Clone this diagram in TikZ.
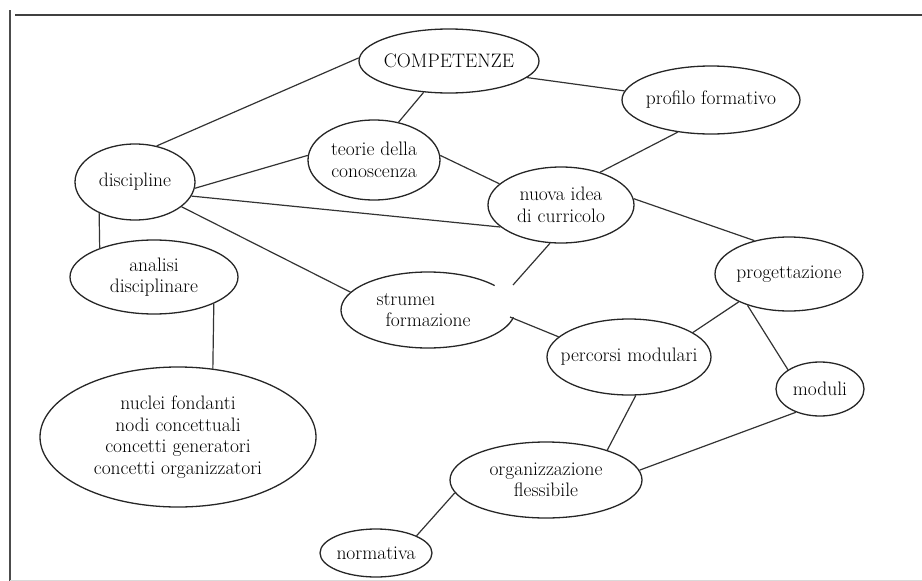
\documentclass[tikz,border=0pt]{standalone}
\usepackage{fontspec}
\usetikzlibrary{shapes.geometric}

\begin{document}
\begin{tikzpicture}[x=1pt,y=-1pt,
    idea/.style={ellipse,draw=black!85,line width=1.3pt,inner sep=0pt,inner xsep=-16pt,
      align=center,text=black,font=\fontsize{19.5}{21.5}\selectfont},
    link/.style={draw=black!80,line width=1.2pt}]
        \useasboundingbox (0,0) rectangle (922,581);
        % page frame
        \draw[black!70,line width=1.5pt] (10,10) -- (10,581);
        \draw[black!75,line width=1.5pt] (15,15) -- (922,15);
        \draw[black!15,line width=0.8pt] (10,580) -- (922,580);
        \node[idea,minimum width=180pt,minimum height=64pt] (comp) at (449,61) {COMPETENZE};
        \node[idea,minimum width=178pt,minimum height=68pt] (prof) at (711,100) {profilo formativo};
        \node[idea,minimum width=132pt,minimum height=80pt] (teor) at (374,160) {teorie della\\conoscenza};
        \node[idea,minimum width=120pt,minimum height=76pt] (disc) at (135,182) {discipline};
        \node[idea,minimum width=146pt,minimum height=76pt] (nuova) at (561,205) {nuova idea\\di curricolo};
        \node[idea,minimum width=168pt,minimum height=74pt] (anal) at (154,277) {analisi\\disciplinare};
        \node[idea,minimum width=148pt,minimum height=74pt] (prog) at (789,274) {progettazione};
        \node[idea,draw=none,align=left,minimum width=174pt,minimum height=76pt] (strum) at (428,310)
            {\hspace*{-9pt}strume\i\\formazione};
        \node[idea,minimum width=164pt,minimum height=76pt] (perc) at (629,357) {percorsi modulari};
        \node[idea,minimum width=88pt,minimum height=54pt] (mod) at (820,389) {moduli};
        \node[idea,minimum width=192pt,minimum height=76pt] (org) at (546,480) {organizzazione\\flessibile};
        \node[idea,minimum width=112pt,minimum height=48pt] (norm) at (376,553) {normativa};
        \node[idea,minimum width=276pt,minimum height=140pt] (nucl) at (178,437)
            {nuclei fondanti\\nodi concettuali\\concetti generatori\\concetti organizzatori};
        % open outline of strum
        \draw[black!85,line width=1.3pt] ([shift={(40:87pt and 38pt)}]strum.center)
            arc[start angle=40,end angle=349,x radius=87pt,y radius=38pt];
        \coordinate (gapT) at (513,285);
        \coordinate (gapB) at (510,317);
        \draw[link] (disc.59) -- (comp.178);
        \draw[link] (comp.231) -- (teor.57);
        \draw[link] (comp.-12) -- (prof.174);
        \draw[link] (disc.-6) -- (teor.176);
        \draw[link] (disc.-14) -- (nuova.200);
        \draw[link] (disc.-28) -- (strum.167);
        \draw[link] (disc.221) -- (anal.152);
        \draw[link] (anal.336) -- (nucl.63);
        \draw[link] (teor.4) -- (nuova.161);
        \draw[link] (nuova.40) -- (prof.224);
        \draw[link] (nuova.5) -- (prog.136);
        \draw[link] (nuova.254) -- (gapT);
        \draw[link] (gapB) -- (perc.164);
        \draw[link] (prog.209) -- (perc.21);
        \draw[link] (prog.217) -- (mod.149);
        \draw[link] (perc.280) -- (org.26);
        \draw[link] (mod.224) -- (org.6);
        \draw[link] (org.188) -- (norm.23);
    \end{tikzpicture}
\end{document}
